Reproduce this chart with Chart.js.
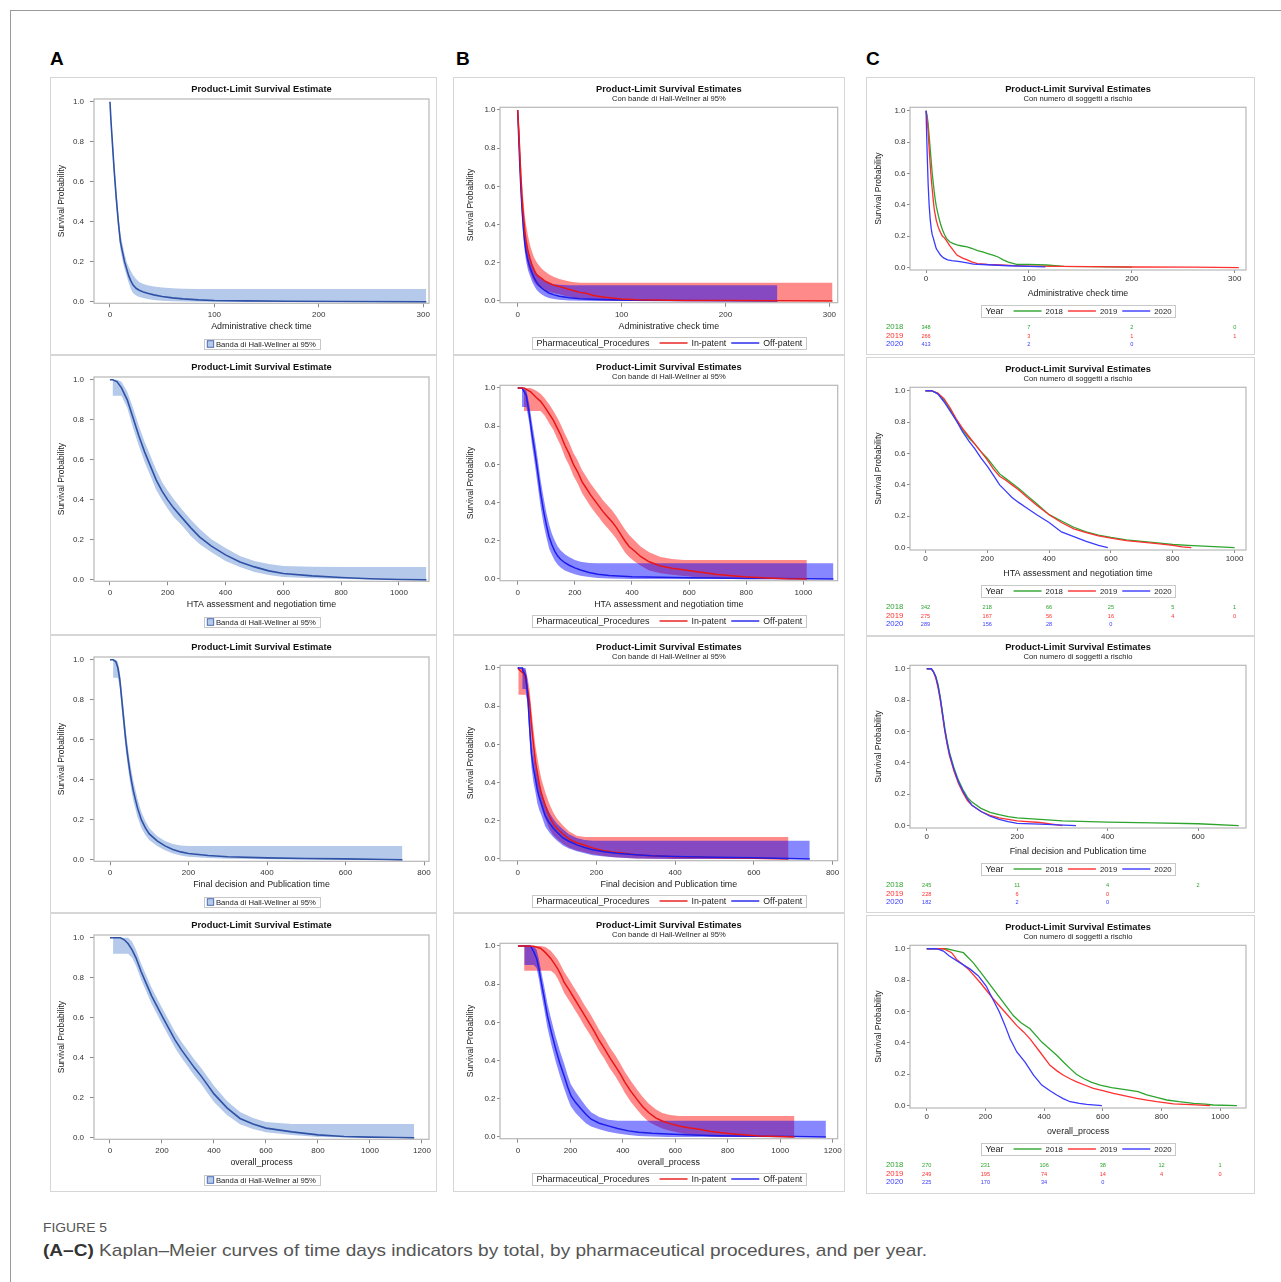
<!DOCTYPE html>
<html><head><meta charset="utf-8">
<script src="https://cdn.jsdelivr.net/npm/chart.js@4.4.1/dist/chart.umd.min.js"></script>
<style>
html,body{margin:0;padding:0;background:#fff}
body{width:1281px;height:1282px;position:relative;overflow:hidden;font-family:"Liberation Sans",Arial,sans-serif}
.frameT{position:absolute;left:10px;top:10px;width:1271px;height:1px;background:#9a9a9a}
.frameL{position:absolute;left:10px;top:10px;width:1px;height:1272px;background:#9a9a9a}
.plab{position:absolute;font-weight:bold;font-size:19px;line-height:19px;color:#000;top:49px}
canvas{position:absolute}
#fig{position:absolute;left:43px;top:1221px;font-size:13px;line-height:13px;color:#555;white-space:nowrap;transform-origin:0 0;font-family:"Liberation Sans Narrow","Liberation Sans",sans-serif}
#cap{position:absolute;left:43px;top:1242px;font-size:17px;line-height:17px;color:#555;white-space:nowrap;transform-origin:0 0;font-family:"Liberation Sans Narrow","Liberation Sans",sans-serif}
#cap b{color:#333}
</style></head><body>
<div class="frameT"></div><div class="frameL"></div>
<div class="plab" style="left:50px">A</div>
<div class="plab" style="left:456px">B</div>
<div class="plab" style="left:866px">C</div>
<div id="fig">FIGURE 5</div>
<div id="cap"><b>(A–C)</b> Kaplan–Meier curves of time days indicators by total, by pharmaceutical procedures, and per year.</div>
<script>
// ================= DATA =================
const yTicks = [0, 0.2, 0.4, 0.6, 0.8, 1.0];
const procedures = ['In-patent', 'Off-patent'];
const years = ['2018', '2019', '2020'];
const bandLabel = 'Banda di Hall-Wellner al 95%';

const xTicks300 = [0, 100, 200, 300];
const xTicks1000 = [0, 200, 400, 600, 800, 1000];
const xTicks800 = [0, 200, 400, 600, 800];
const xTicks600 = [0, 200, 400, 600];
const xTicks1200 = [0, 200, 400, 600, 800, 1000, 1200];

// ---- Column A (total) ----
const A1_t  = [0,1,2,3,4,5,6,7,8,9,10,12,14,16,18,20,22,25,28,32,36,42,50,60,70,85,100,130,170,220,303];
const A1_S  = [1.0,0.90,0.82,0.74,0.66,0.59,0.52,0.46,0.40,0.35,0.30,0.25,0.20,0.165,0.13,0.105,0.085,0.068,0.058,0.050,0.043,0.035,0.027,0.020,0.015,0.010,0.007,0.005,0.003,0.002,0.0];
const A1_up = [1.0,0.93,0.86,0.78,0.70,0.63,0.56,0.50,0.44,0.39,0.34,0.29,0.24,0.20,0.175,0.155,0.135,0.115,0.10,0.09,0.083,0.077,0.072,0.068,0.066,0.065,0.065,0.065,0.065,0.065,0.065];
const A1_lo = [1.0,0.87,0.78,0.70,0.62,0.55,0.48,0.42,0.36,0.31,0.26,0.21,0.165,0.13,0.095,0.065,0.045,0.032,0.025,0.02,0.015,0.01,0.006,0.003,0.002,0.001,0,0,0,0,0];

const A2_t  = [0,10,10,25,40,60,80,100,120,140,160,180,200,220,250,280,310,350,400,450,500,550,600,700,800,900,1000,1095];
const A2_S  = [1.0,1.0,1.0,0.99,0.96,0.90,0.81,0.72,0.64,0.57,0.50,0.445,0.40,0.36,0.31,0.26,0.215,0.17,0.125,0.09,0.065,0.045,0.032,0.02,0.012,0.006,0.002,0.0];
const A2_up = [1.0,1.0,1.0,1.0,0.99,0.94,0.86,0.77,0.69,0.62,0.55,0.49,0.445,0.405,0.35,0.30,0.255,0.205,0.16,0.12,0.095,0.08,0.07,0.066,0.065,0.065,0.065,0.065];
const A2_lo = [1.0,1.0,0.92,0.92,0.92,0.86,0.76,0.67,0.59,0.52,0.45,0.40,0.355,0.315,0.27,0.22,0.18,0.14,0.095,0.065,0.04,0.025,0.015,0.008,0.004,0.002,0,0];

const A3_t  = [0,8,8,15,20,25,30,35,40,45,50,55,60,70,80,90,100,120,140,160,180,200,250,300,400,500,600,700,745];
const A3_S  = [1.0,1.0,1.0,0.99,0.96,0.90,0.80,0.70,0.60,0.52,0.45,0.39,0.34,0.26,0.20,0.16,0.13,0.095,0.07,0.052,0.04,0.032,0.022,0.016,0.01,0.007,0.005,0.002,0.0];
const A3_up = [1.0,1.0,1.0,1.0,0.99,0.94,0.85,0.75,0.65,0.57,0.50,0.44,0.39,0.305,0.24,0.195,0.16,0.12,0.095,0.08,0.072,0.07,0.07,0.07,0.07,0.07,0.07,0.07,0.07];
const A3_lo = [1.0,1.0,0.91,0.91,0.91,0.86,0.75,0.65,0.55,0.47,0.40,0.34,0.29,0.215,0.16,0.125,0.10,0.07,0.048,0.032,0.022,0.016,0.01,0.006,0.003,0.001,0,0,0];

const A4_t  = [0,12,12,40,55,70,85,100,120,140,160,180,200,225,250,275,300,325,350,375,400,450,500,550,600,700,800,900,1000,1100,1170];
const A4_S  = [1.0,1.0,1.0,1.0,0.99,0.97,0.94,0.90,0.83,0.77,0.71,0.66,0.61,0.55,0.49,0.44,0.395,0.35,0.31,0.265,0.22,0.15,0.097,0.07,0.049,0.03,0.015,0.007,0.004,0.002,0.0];
const A4_up = [1.0,1.0,1.0,1.0,1.0,1.0,0.98,0.94,0.87,0.81,0.75,0.70,0.65,0.59,0.53,0.48,0.435,0.39,0.35,0.305,0.26,0.185,0.13,0.1,0.08,0.07,0.07,0.07,0.07,0.07,0.07];
const A4_lo = [1.0,1.0,0.92,0.92,0.92,0.92,0.90,0.86,0.79,0.73,0.67,0.62,0.57,0.51,0.45,0.40,0.355,0.31,0.27,0.225,0.18,0.115,0.068,0.045,0.028,0.014,0.005,0.002,0,0,0];

// ---- Column B (by pharmaceutical procedure) ----
const B1_in_t  = [0,1,2,3,4,5,6,7,8,10,12,14,16,18,20,23,26,30,35,40,45,50,55,60,66,72,80,90,100,115,130,160,200,250,303];
const B1_in_S  = [1.0,0.90,0.78,0.66,0.56,0.48,0.42,0.36,0.32,0.26,0.22,0.185,0.16,0.14,0.13,0.118,0.105,0.094,0.082,0.076,0.068,0.060,0.052,0.045,0.040,0.030,0.022,0.016,0.011,0.007,0.005,0.003,0.002,0.001,0.0];
const B1_in_up = [1.0,0.96,0.86,0.74,0.64,0.56,0.50,0.44,0.40,0.34,0.29,0.255,0.225,0.205,0.19,0.17,0.155,0.14,0.125,0.115,0.108,0.102,0.098,0.096,0.095,0.095,0.095,0.095,0.095,0.095,0.095,0.095,0.095,0.095,0.095];
const B1_in_lo = [1.0,0.84,0.70,0.58,0.48,0.40,0.34,0.28,0.24,0.18,0.15,0.12,0.10,0.085,0.075,0.065,0.055,0.048,0.04,0.035,0.028,0.022,0.016,0.012,0.008,0.005,0.002,0.001,0,0,0,0,0,0,0];
const B1_off_t  = [0,1,2,3,4,5,6,7,8,10,12,14,16,18,20,23,26,30,35,40,50,60,73,90,110,150,200,250];
const B1_off_S  = [1.0,0.86,0.72,0.60,0.50,0.42,0.35,0.30,0.26,0.21,0.175,0.145,0.12,0.10,0.085,0.068,0.055,0.042,0.032,0.025,0.017,0.012,0.009,0.006,0.004,0.003,0.001,0.0];
const B1_off_up = [1.0,0.90,0.77,0.65,0.55,0.47,0.40,0.35,0.31,0.26,0.22,0.19,0.165,0.145,0.13,0.115,0.105,0.095,0.088,0.085,0.083,0.083,0.083,0.083,0.083,0.083,0.083,0.083];
const B1_off_lo = [1.0,0.82,0.67,0.55,0.45,0.37,0.30,0.25,0.21,0.16,0.13,0.10,0.078,0.06,0.048,0.035,0.025,0.016,0.01,0.006,0.003,0.001,0,0,0,0,0,0];

const B2_in_t  = [0,22,22,45,65,80,95,110,125,140,150,165,180,195,210,225,240,255,270,285,300,315,330,345,360,375,390,410,430,460,500,540,580,640,700,790,870,940,1012];
const B2_in_S  = [1.0,1.0,1.0,0.98,0.95,0.93,0.90,0.865,0.83,0.785,0.755,0.70,0.655,0.60,0.56,0.51,0.475,0.44,0.41,0.38,0.35,0.325,0.30,0.27,0.235,0.20,0.17,0.145,0.118,0.09,0.068,0.056,0.048,0.035,0.023,0.012,0.005,0.001,0.0];
const B2_in_up = [1.0,1.0,1.0,1.0,0.985,0.97,0.945,0.915,0.88,0.84,0.81,0.76,0.715,0.66,0.62,0.57,0.535,0.50,0.47,0.44,0.41,0.385,0.36,0.33,0.295,0.26,0.23,0.2,0.17,0.14,0.115,0.105,0.1,0.1,0.1,0.1,0.1,0.1,0.1];
const B2_in_lo = [1.0,1.0,0.88,0.88,0.88,0.88,0.855,0.815,0.78,0.73,0.70,0.64,0.595,0.54,0.50,0.45,0.415,0.38,0.35,0.32,0.29,0.265,0.24,0.21,0.175,0.14,0.115,0.09,0.07,0.045,0.03,0.022,0.016,0.008,0.003,0,0,0,0];
const B2_off_t  = [0,15,15,30,40,50,60,70,80,90,100,110,120,130,140,150,165,180,200,220,250,280,320,400,500,600,700,800,900,1000,1105];
const B2_off_S  = [1.0,1.0,1.0,0.96,0.87,0.76,0.665,0.56,0.45,0.36,0.285,0.22,0.178,0.145,0.12,0.103,0.085,0.072,0.058,0.047,0.034,0.025,0.018,0.012,0.009,0.007,0.005,0.003,0.002,0.001,0.0];
const B2_off_up = [1.0,1.0,1.0,0.99,0.92,0.82,0.73,0.63,0.52,0.43,0.35,0.285,0.235,0.2,0.17,0.15,0.13,0.115,0.10,0.09,0.084,0.083,0.083,0.083,0.083,0.083,0.083,0.083,0.083,0.083,0.083];
const B2_off_lo = [1.0,1.0,0.90,0.90,0.82,0.70,0.60,0.49,0.38,0.29,0.22,0.16,0.125,0.095,0.075,0.06,0.045,0.035,0.025,0.017,0.01,0.005,0.002,0,0,0,0,0,0,0,0];

const B3_in_t  = [0,2,2,15,20,25,30,35,40,45,50,55,60,70,80,90,100,115,130,150,170,190,210,240,270,300,340,400,500,600,688];
const B3_in_S  = [1.0,1.0,0.995,0.97,0.94,0.89,0.82,0.70,0.60,0.51,0.45,0.39,0.345,0.28,0.225,0.185,0.16,0.13,0.105,0.085,0.072,0.058,0.047,0.037,0.03,0.022,0.017,0.012,0.008,0.004,0.0];
const B3_in_up = [1.0,1.0,1.0,1.0,0.99,0.95,0.89,0.78,0.68,0.59,0.53,0.47,0.42,0.35,0.29,0.245,0.21,0.175,0.145,0.122,0.115,0.115,0.115,0.115,0.115,0.115,0.115,0.115,0.115,0.115,0.115];
const B3_in_lo = [1.0,1.0,0.86,0.86,0.86,0.83,0.75,0.62,0.52,0.43,0.37,0.31,0.27,0.21,0.16,0.125,0.105,0.08,0.06,0.045,0.035,0.025,0.018,0.011,0.007,0.003,0.001,0,0,0,0];
const B3_off_t  = [0,12,12,20,25,30,35,40,45,50,55,60,70,80,90,100,115,130,150,170,190,220,250,300,340,400,500,600,742];
const B3_off_S  = [1.0,1.0,0.99,0.96,0.87,0.70,0.55,0.476,0.42,0.36,0.32,0.29,0.225,0.19,0.162,0.14,0.11,0.093,0.074,0.06,0.048,0.038,0.03,0.022,0.017,0.013,0.009,0.006,0.0];
const B3_off_up = [1.0,1.0,1.0,1.0,0.93,0.77,0.62,0.55,0.49,0.43,0.385,0.35,0.29,0.245,0.21,0.185,0.155,0.13,0.11,0.10,0.095,0.095,0.095,0.095,0.095,0.095,0.095,0.095,0.095];
const B3_off_lo = [1.0,1.0,0.89,0.89,0.81,0.63,0.48,0.40,0.35,0.29,0.255,0.23,0.17,0.14,0.115,0.095,0.07,0.055,0.04,0.03,0.02,0.013,0.008,0.003,0.001,0,0,0,0];

const B4_in_t  = [0,24,24,60,86,105,125,140,151,165,176,195,215,235,254,275,292,310,331,350,370,390,408,430,453,475,498,525,550,580,614,650,691,730,769,820,872,920,1054];
const B4_in_S  = [1.0,1.0,1.0,0.998,0.988,0.965,0.935,0.905,0.882,0.845,0.81,0.77,0.725,0.68,0.637,0.59,0.55,0.505,0.46,0.415,0.374,0.33,0.286,0.24,0.198,0.16,0.128,0.1,0.084,0.07,0.058,0.048,0.04,0.03,0.023,0.016,0.01,0.005,0.0];
const B4_in_up = [1.0,1.0,1.0,1.0,1.0,0.995,0.975,0.95,0.93,0.895,0.865,0.825,0.78,0.735,0.69,0.645,0.605,0.56,0.515,0.47,0.43,0.385,0.34,0.295,0.25,0.21,0.175,0.145,0.125,0.115,0.11,0.11,0.11,0.11,0.11,0.11,0.11,0.11,0.11];
const B4_in_lo = [1.0,1.0,0.87,0.87,0.87,0.87,0.87,0.855,0.83,0.79,0.755,0.715,0.67,0.625,0.58,0.535,0.495,0.45,0.405,0.36,0.32,0.275,0.23,0.185,0.145,0.11,0.08,0.06,0.045,0.033,0.022,0.012,0.006,0.002,0,0,0,0,0];
const B4_off_t  = [0,25,25,48,60,71,80,89,100,112,128,144,160,176,190,202,220,241,260,279,310,344,380,421,460,511,570,640,700,769,900,1050,1174];
const B4_off_S  = [1.0,1.0,1.0,1.0,0.97,0.935,0.88,0.81,0.73,0.637,0.545,0.46,0.385,0.32,0.26,0.216,0.18,0.146,0.118,0.093,0.072,0.058,0.044,0.032,0.025,0.019,0.015,0.012,0.009,0.007,0.004,0.002,0.0];
const B4_off_up = [1.0,1.0,1.0,1.0,1.0,0.98,0.93,0.865,0.79,0.70,0.61,0.525,0.45,0.385,0.32,0.275,0.235,0.195,0.16,0.13,0.105,0.09,0.085,0.085,0.085,0.085,0.085,0.085,0.085,0.085,0.085,0.085,0.085];
const B4_off_lo = [1.0,1.0,0.9,0.9,0.9,0.885,0.825,0.75,0.67,0.575,0.48,0.395,0.32,0.255,0.2,0.16,0.125,0.095,0.07,0.055,0.04,0.028,0.018,0.01,0.005,0.002,0,0,0,0,0,0,0];

// ---- Column C (by year) ----
const C1_2018_t = [0,1,2,3,4,5,6,7,8,9,10,12,14,16,18,20,23,26,30,35,40,45,50,55,60,65,70,75,80,88,100,117,134,160,200];
const C1_2018_S = [1.0,0.97,0.92,0.84,0.76,0.68,0.60,0.54,0.48,0.43,0.39,0.33,0.28,0.24,0.21,0.185,0.165,0.155,0.145,0.138,0.132,0.122,0.108,0.10,0.09,0.08,0.068,0.05,0.035,0.021,0.02,0.017,0.008,0.006,0.003];
const C1_2019_t = [0,1,2,3,4,5,6,7,8,10,12,14,16,18,20,23,26,30,35,40,45,50,60,72,85,100,130,160,200,260,304];
const C1_2019_S = [1.0,0.95,0.87,0.76,0.66,0.57,0.50,0.43,0.37,0.30,0.255,0.225,0.20,0.19,0.17,0.14,0.115,0.08,0.062,0.049,0.035,0.026,0.02,0.017,0.013,0.01,0.008,0.006,0.004,0.003,0.0];
const C1_2020_t = [0,1,2,3,4,5,6,7,8,10,12,14,17,21,25,33,40,46,55,65,80,100,116];
const C1_2020_S = [1.0,0.75,0.54,0.40,0.31,0.25,0.21,0.19,0.165,0.12,0.10,0.08,0.062,0.05,0.045,0.038,0.03,0.023,0.02,0.017,0.012,0.008,0.005];

const C2_2018_t = [0,20,40,60,80,100,120,140,160,180,200,220,240,260,280,300,330,360,400,440,480,520,560,600,650,700,750,800,850,900,950,1000];
const C2_2018_S = [1.0,1.0,0.98,0.94,0.88,0.81,0.75,0.70,0.66,0.61,0.57,0.52,0.47,0.44,0.41,0.38,0.33,0.28,0.21,0.17,0.13,0.10,0.08,0.065,0.05,0.04,0.03,0.02,0.015,0.01,0.005,0.0];
const C2_2019_t = [0,20,40,60,80,100,120,140,160,180,200,220,240,260,280,300,330,360,400,440,480,520,560,600,650,700,750,800,830,860];
const C2_2019_S = [1.0,1.0,0.985,0.95,0.89,0.82,0.76,0.71,0.66,0.61,0.56,0.50,0.455,0.43,0.40,0.37,0.32,0.27,0.21,0.16,0.12,0.095,0.075,0.06,0.045,0.035,0.025,0.015,0.005,0.0];
const C2_2020_t = [0,20,40,60,80,100,120,140,160,180,200,220,240,260,280,300,330,360,400,440,480,520,560,590];
const C2_2020_S = [1.0,1.0,0.98,0.93,0.87,0.81,0.74,0.68,0.63,0.57,0.52,0.46,0.40,0.36,0.32,0.29,0.25,0.21,0.16,0.10,0.07,0.04,0.015,0.0];

const C3_2018_t = [0,10,15,20,25,30,35,40,45,50,60,70,80,90,100,120,140,160,180,200,250,300,400,500,600,690];
const C3_2018_S = [1.0,1.0,0.98,0.95,0.90,0.82,0.72,0.62,0.54,0.47,0.37,0.29,0.23,0.18,0.15,0.11,0.085,0.07,0.058,0.05,0.04,0.03,0.022,0.018,0.012,0.0];
const C3_2019_t = [0,10,15,20,25,30,35,40,45,50,60,70,80,90,100,120,140,160,180,200,250,300];
const C3_2019_S = [1.0,1.0,0.98,0.94,0.88,0.80,0.70,0.60,0.52,0.45,0.35,0.27,0.21,0.16,0.13,0.09,0.065,0.05,0.04,0.03,0.02,0.0];
const C3_2020_t = [0,10,15,20,25,30,35,40,45,50,60,70,80,90,100,120,140,160,180,200,250,330];
const C3_2020_S = [1.0,1.0,0.98,0.95,0.89,0.81,0.71,0.61,0.53,0.46,0.36,0.28,0.22,0.17,0.13,0.09,0.06,0.04,0.025,0.015,0.01,0.0];

const C4_2018_t = [0,68,91,125,159,193,227,261,295,320,352,392,420,443,470,489,510,534,560,591,630,682,720,750,790,818,860,909,950,977,1057];
const C4_2018_S = [1.0,1.0,0.99,0.975,0.91,0.827,0.743,0.658,0.574,0.53,0.49,0.405,0.36,0.321,0.27,0.236,0.2,0.173,0.15,0.131,0.115,0.10,0.09,0.068,0.05,0.036,0.025,0.015,0.01,0.004,0.0];
const C4_2019_t = [0,57,85,102,142,182,227,267,307,330,352,386,420,445,466,490,511,540,568,600,636,680,716,750,784,841,900,966];
const C4_2019_S = [1.0,1.0,0.975,0.932,0.87,0.785,0.68,0.595,0.51,0.47,0.426,0.342,0.257,0.22,0.194,0.17,0.152,0.13,0.11,0.095,0.078,0.06,0.046,0.035,0.025,0.011,0.006,0.0];
const C4_2020_t = [0,34,57,77,114,148,176,202,225,248,267,284,307,335,364,392,420,443,465,489,520,545,597];
const C4_2020_S = [1.0,1.0,0.985,0.954,0.91,0.87,0.827,0.764,0.68,0.595,0.51,0.426,0.342,0.278,0.194,0.131,0.095,0.068,0.045,0.025,0.015,0.008,0.0];

// numbers at risk (one value per x tick; null = not shown)
const C1_risk_2018 = [348, 7, 2, 0];
const C1_risk_2019 = [266, 3, 1, 1];
const C1_risk_2020 = [413, 2, 0, null];
const C2_risk_2018 = [342, 218, 66, 25, 5, 1];
const C2_risk_2019 = [275, 167, 56, 16, 4, 0];
const C2_risk_2020 = [289, 156, 28, 0, null, null];
const C3_risk_2018 = [245, 11, 4, 2];
const C3_risk_2019 = [228, 6, 0, null];
const C3_risk_2020 = [182, 2, 0, null];
const C4_risk_2018 = [270, 231, 106, 38, 12, 1];
const C4_risk_2019 = [249, 195, 74, 14, 4, 0];
const C4_risk_2020 = [225, 170, 34, 0, null, null];

// ================= STYLE / LAYOUT =================
const FONT = '"Liberation Sans", Arial, sans-serif';
const COLORS = {
  total: '#2f52a6', totalBand: '#b5c9ea',
  inp: 'rgb(232,22,22)', inpBand: 'rgba(255,0,0,0.46)',
  off: 'rgb(28,28,235)', offBand: 'rgba(0,0,255,0.47)',
  y2018: 'rgb(46,164,46)', y2019: 'rgb(255,48,48)', y2020: 'rgb(58,58,255)'
};
const COL = {
  A: {left:50, width:387, plotL:44, plotR:8, plotT:22, plotB:226.3, titleY:12, xTitleY:250, legendY:267, yTitlePad:6.6, yMin:-0.007, yMax:1.014, yTl:4, yPad:6, xTl:4, xPad:2.2},
  B: {left:453, width:392, plotL:47, plotR:7.3, plotT:30.3, plotB:225.7, titleY:12, subY:22, xTitleY:250, legendY:266, yTitlePad:12.4, yMin:-0.009, yMax:1.014, yTl:3, yPad:1.5, xTl:4, xPad:2.8},
  C: {left:866, width:389, plotL:44, plotR:9, plotT:30.3, plotB:193, titleY:12, subY:22, xTitleY:217, legendY:234, riskY:[250.3,259,267.3], yTitlePad:7.2, yMin:-0.015, yMax:1.022, yTl:3, yPad:1.5, xTl:3, xPad:1.4}
};
const ROW_TOP = [77, 355, 635, 913, 1192];
const C_SHIFT = [0, 1.5, 0, 1.5];
const xTitles = ['Administrative check time', 'HTA assessment and negotiation time', 'Final decision and Publication time', 'overall_process'];

function series(t, s) { return t.map((x, i) => ({x: x, y: s[i]})); }
function band(t, up, lo, color, order) {
  return [
    {data: series(t, up), borderWidth: 0, borderColor: 'rgba(0,0,0,0)', fill: '+1', backgroundColor: color, pointRadius: 0, order: order},
    {data: series(t, lo), borderWidth: 0, borderColor: 'rgba(0,0,0,0)', fill: false, pointRadius: 0, order: order}
  ];
}
function line(t, s, color, order, w) {
  return {data: series(t, s), borderColor: color, borderWidth: w, fill: false, pointRadius: 0, order: order};
}

const panels = [
  {col:'A', row:0, kind:'total', xr:[-15.3,305.6], xt:xTicks300,
   ds:()=>[...band(A1_t,A1_up,A1_lo,COLORS.totalBand,10), line(A1_t,A1_S,COLORS.total,0,1.6)]},
  {col:'A', row:1, kind:'total', xr:[-55,1104], xt:xTicks1000,
   ds:()=>[...band(A2_t,A2_up,A2_lo,COLORS.totalBand,10), line(A2_t,A2_S,COLORS.total,0,1.6)]},
  {col:'A', row:2, kind:'total', xr:[-40.8,812.7], xt:xTicks800,
   ds:()=>[...band(A3_t,A3_up,A3_lo,COLORS.totalBand,10), line(A3_t,A3_S,COLORS.total,0,1.6)]},
  {col:'A', row:3, kind:'total', xr:[-61.5,1227], xt:xTicks1200,
   ds:()=>[...band(A4_t,A4_up,A4_lo,COLORS.totalBand,10), line(A4_t,A4_S,COLORS.total,0,1.6)]},

  {col:'B', row:0, kind:'proc', xr:[-17,308], xt:xTicks300,
   ds:()=>[...band(B1_in_t,B1_in_up,B1_in_lo,COLORS.inpBand,11), ...band(B1_off_t,B1_off_up,B1_off_lo,COLORS.offBand,10),
           line(B1_in_t,B1_in_S,COLORS.inp,0,1.5), line(B1_off_t,B1_off_S,COLORS.off,1,1.5)]},
  {col:'B', row:1, kind:'proc', xr:[-62,1120], xt:xTicks1000,
   ds:()=>[...band(B2_in_t,B2_in_up,B2_in_lo,COLORS.inpBand,11), ...band(B2_off_t,B2_off_up,B2_off_lo,COLORS.offBand,10),
           line(B2_in_t,B2_in_S,COLORS.inp,0,1.5), line(B2_off_t,B2_off_S,COLORS.off,1,1.5)]},
  {col:'B', row:2, kind:'proc', xr:[-45,813], xt:xTicks800,
   ds:()=>[...band(B3_in_t,B3_in_up,B3_in_lo,COLORS.inpBand,11), ...band(B3_off_t,B3_off_up,B3_off_lo,COLORS.offBand,10),
           line(B3_in_t,B3_in_S,COLORS.inp,1,1.5), line(B3_off_t,B3_off_S,COLORS.off,0,1.5)]},
  {col:'B', row:3, kind:'proc', xr:[-68.4,1219], xt:xTicks1200,
   ds:()=>[...band(B4_in_t,B4_in_up,B4_in_lo,COLORS.inpBand,11), ...band(B4_off_t,B4_off_up,B4_off_lo,COLORS.offBand,10),
           line(B4_in_t,B4_in_S,COLORS.inp,0,1.5), line(B4_off_t,B4_off_S,COLORS.off,1,1.5)]},

  {col:'C', row:0, kind:'year', xr:[-15.6,311], xt:xTicks300, risk:[C1_risk_2018,C1_risk_2019,C1_risk_2020],
   ds:()=>[line(C1_2018_t,C1_2018_S,COLORS.y2018,2,1.3), line(C1_2019_t,C1_2019_S,COLORS.y2019,1,1.3), line(C1_2020_t,C1_2020_S,COLORS.y2020,0,1.3)]},
  {col:'C', row:1, kind:'year', xr:[-50,1037], xt:xTicks1000, risk:[C2_risk_2018,C2_risk_2019,C2_risk_2020],
   ds:()=>[line(C2_2018_t,C2_2018_S,COLORS.y2018,2,1.3), line(C2_2019_t,C2_2019_S,COLORS.y2019,1,1.3), line(C2_2020_t,C2_2020_S,COLORS.y2020,0,1.3)]},
  {col:'C', row:2, kind:'year', xr:[-37,706], xt:xTicks600, risk:[C3_risk_2018,C3_risk_2019,C3_risk_2020],
   ds:()=>[line(C3_2018_t,C3_2018_S,COLORS.y2018,2,1.3), line(C3_2019_t,C3_2019_S,COLORS.y2019,1,1.3), line(C3_2020_t,C3_2020_S,COLORS.y2020,0,1.3)]},
  {col:'C', row:3, kind:'year', xr:[-57,1088], xt:xTicks1000, risk:[C4_risk_2018,C4_risk_2019,C4_risk_2020],
   ds:()=>[line(C4_2018_t,C4_2018_S,COLORS.y2018,2,1.3), line(C4_2019_t,C4_2019_S,COLORS.y2019,1,1.3), line(C4_2020_t,C4_2020_S,COLORS.y2020,0,1.3)]}
];

function drawLineLegend(ctx, cx, cy, title, labels, colors, itemSize) {
  ctx.textBaseline = 'middle'; ctx.textAlign = 'left';
  ctx.font = '9px ' + FONT;
  const tw = ctx.measureText(title).width;
  ctx.font = itemSize + 'px ' + FONT;
  const iw = labels.map(l => ctx.measureText(l).width);
  const padL = 4.5, padR = 3.5, gapT = 10, L = 28, gapL = 4, gapI = 5;
  let w = padL + tw + gapT + padR;
  iw.forEach((v, i) => { w += L + gapL + v + (i < iw.length - 1 ? gapI : 0); });
  const h = 12.3;
  const x0 = cx - w / 2;
  ctx.fillStyle = '#fff'; ctx.fillRect(x0, cy - h / 2, w, h);
  ctx.strokeStyle = '#c8c8c8'; ctx.lineWidth = 1;
  ctx.strokeRect(Math.round(x0) + 0.5, Math.round(cy - h / 2) + 0.5, Math.round(w), Math.round(h));
  let x = x0 + padL;
  ctx.fillStyle = '#222'; ctx.font = '9px ' + FONT; ctx.fillText(title, x, cy + 0.5);
  x += tw + gapT;
  ctx.font = itemSize + 'px ' + FONT;
  labels.forEach((l, i) => {
    ctx.strokeStyle = colors[i]; ctx.lineWidth = 1.4;
    ctx.beginPath(); ctx.moveTo(x, cy); ctx.lineTo(x + L, cy); ctx.stroke();
    x += L + gapL;
    ctx.fillStyle = '#222'; ctx.fillText(l, x, cy + 0.5);
    x += iw[i] + gapI;
  });
}

function decor(p, c) {
  return {
    id: 'decor',
    afterDraw(chart) {
      const ctx = chart.ctx, ca = chart.chartArea;
      const cx = (ca.left + ca.right) / 2;
      const W = chart.width, H = chart.height;
      ctx.save();
      ctx.strokeStyle = '#d6d6d6'; ctx.lineWidth = 1;
      ctx.strokeRect(0.5, 0.5, W - 1, H - 1);
      ctx.strokeStyle = '#b7b7b7'; ctx.lineWidth = 1.2;
      ctx.strokeRect(ca.left, ca.top, ca.right - ca.left, ca.bottom - ca.top);
      ctx.fillStyle = '#111'; ctx.textAlign = 'center'; ctx.textBaseline = 'middle';
      ctx.font = 'bold 9.3px ' + FONT;
      ctx.fillText(p.col === 'A' ? 'Product-Limit Survival Estimate' : 'Product-Limit Survival Estimates', cx, c.titleY);
      if (p.col !== 'A') {
        ctx.font = '7.6px ' + FONT; ctx.fillStyle = '#222';
        ctx.fillText(p.col === 'B' ? 'Con bande di Hall-Wellner al 95%' : 'Con numero di soggetti a rischio', cx, c.subY);
      }
      if (p.kind === 'total') {
        ctx.font = '7.7px ' + FONT; ctx.textAlign = 'left';
        const tw = ctx.measureText(bandLabel).width;
        const sw = 6.5, padL = 3.5, gap = 2.2, padR = 3.5, h = 10;
        const w = padL + sw + gap + tw + padR;
        const x0 = cx - w / 2, cy = c.legendY;
        ctx.strokeStyle = '#c8c8c8'; ctx.lineWidth = 1;
        ctx.strokeRect(Math.round(x0) + 0.5, Math.round(cy - h / 2) + 0.5, Math.round(w), h);
        ctx.fillStyle = COLORS.totalBand; ctx.fillRect(x0 + padL, cy - sw / 2, sw, sw);
        ctx.strokeStyle = COLORS.total; ctx.lineWidth = 0.8; ctx.strokeRect(x0 + padL, cy - sw / 2, sw, sw);
        ctx.fillStyle = '#222'; ctx.fillText(bandLabel, x0 + padL + sw + gap, cy + 0.5);
      } else if (p.kind === 'proc') {
        drawLineLegend(ctx, cx, c.legendY, 'Pharmaceutical_Procedures', procedures, [COLORS.inp, COLORS.off], 8.8);
      } else {
        drawLineLegend(ctx, cx, c.legendY, 'Year', years, [COLORS.y2018, COLORS.y2019, COLORS.y2020], 7.8);
        const xs = chart.scales.x;
        const cols = [COLORS.y2018, COLORS.y2019, COLORS.y2020];
        years.forEach((yr, r) => {
          const y = c.riskY[r];
          ctx.fillStyle = cols[r];
          ctx.textAlign = 'left'; ctx.font = '7.8px ' + FONT;
          ctx.fillText(yr, 20, y);
          ctx.textAlign = 'center'; ctx.font = '5.6px ' + FONT;
          p.risk[r].forEach((v, i) => {
            if (v === null) return;
            ctx.fillText(String(v), xs.getPixelForValue(p.xt[i]), y);
          });
        });
      }
      ctx.restore();
    }
  };
}

function build(p) {
  const c = COL[p.col];
  const top = ROW_TOP[p.row] + (p.col === 'C' ? C_SHIFT[p.row] : 0);
  const H = ROW_TOP[p.row + 1] - ROW_TOP[p.row];
  const W = c.width;
  const cv = document.createElement('canvas');
  cv.width = W; cv.height = H;
  cv.style.left = c.left + 'px'; cv.style.top = top + 'px';
  cv.style.width = W + 'px'; cv.style.height = H + 'px';
  document.body.appendChild(cv);
  const xtFont = 8.9, xtLH = xtFont * 1.2;
  const xh = c.xTitleY - c.plotB + xtLH / 2;
  const padBottom = H - c.plotB - xh;
  new Chart(cv, {
    type: 'line',
    data: {datasets: p.ds()},
    options: {
      responsive: false, animation: false, devicePixelRatio: 1,
      layout: {padding: {left: 0, top: c.plotT, right: c.plotR, bottom: padBottom}},
      plugins: {legend: {display: false}, tooltip: {enabled: false}, title: {display: false}},
      elements: {point: {radius: 0}, line: {tension: 0}},
      scales: {
        x: {
          type: 'linear', position: 'bottom', min: p.xr[0], max: p.xr[1],
          afterBuildTicks: s => { s.ticks = p.xt.map(v => ({value: v})); },
          afterFit: s => { s.height = xh; },
          ticks: {autoSkip: false, maxRotation: 0, minRotation: 0, padding: c.xPad, color: '#333', font: {family: FONT, size: 8}, callback: v => String(v)},
          grid: {display: true, drawOnChartArea: false, drawTicks: true, tickLength: c.xTl, color: '#8a8a8a', lineWidth: 1},
          border: {display: false},
          title: {display: true, text: xTitles[p.row], color: '#222', font: {family: FONT, size: xtFont}, padding: {top: 0, bottom: 0}}
        },
        y: {
          type: 'linear', position: 'left', min: c.yMin, max: c.yMax,
          afterBuildTicks: s => { s.ticks = yTicks.map(v => ({value: v})); },
          afterFit: s => { s.width = c.plotL; },
          ticks: {padding: c.yPad, color: '#333', font: {family: FONT, size: 8}, callback: v => Number(v).toFixed(1)},
          grid: {display: true, drawOnChartArea: false, drawTicks: true, tickLength: c.yTl, color: '#8a8a8a', lineWidth: 1},
          border: {display: false},
          title: {display: true, text: 'Survival Probability', color: '#222', font: {family: FONT, size: 8.5}, padding: {top: c.yTitlePad, bottom: 0}}
        }
      }
    },
    plugins: [decor(p, c)]
  });
}

panels.forEach(build);

function fitWidth(id, target) {
  const el = document.getElementById(id);
  const w = el.offsetWidth;
  if (w > 0) el.style.transform = 'scaleX(' + (target / w) + ')';
}
fitWidth('fig', 64);
fitWidth('cap', 884);
</script>
</body></html>
